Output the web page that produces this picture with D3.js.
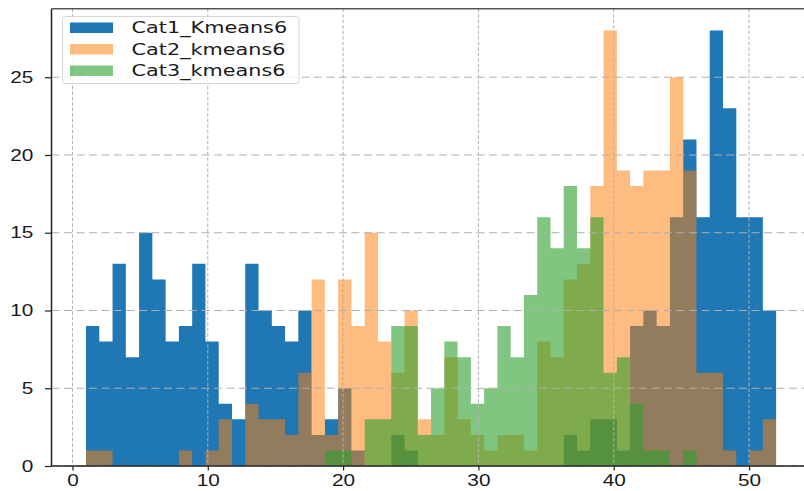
<!DOCTYPE html>
<html>
<head>
<meta charset="utf-8">
<script src="https://cdn.jsdelivr.net/npm/d3@7"></script>
<style>
  html, body { margin: 0; padding: 0; background: #fff; }
  svg { display: block; font-family: "DejaVu Sans", sans-serif; }
</style>
</head>
<body>
<svg></svg>
<script>
// histogram bins: 52 equal bins between 1 and 52
let binStart = 1
let binEnd = 52
let binCount = 52

let seriesNames = ['Cat1_Kmeans6', 'Cat2_kmeans6', 'Cat3_kmeans6']

let cat1 = [9,8,13,7,15,12,8,9,13,8, 4,3,13,10,9,8,10,2,3,5,
            1,0,0,2,1,0,0,0,0,0, 0,0,0,0,0,0,2,1,3,3,
            1,9,10,9,16,21,16,28,23,16, 16,10]
let cat2 = [1,1,0,0,0,0,0,1,0,1, 3,0,4,3,3,2,6,12,2,12,
            9,15,8,6,10,3,2,7,3,2, 1,2,2,1,8,7,12,13,18,28,
            19,18,19,19,25,19,6,6,1,0, 1,3]
let cat3 = [0,0,0,0,0,0,0,0,0,0, 0,0,0,0,0,0,0,0,1,1,
            0,3,3,9,9,2,5,8,7,4, 5,9,7,11,16,14,18,14,16,6,
            7,4,1,1,0,1,0,0,0,0, 0,0]

let xTicks = [0, 10, 20, 30, 40, 50]
let yTicks = [0, 5, 10, 15, 20, 25]

let colors = ['#1f77b4', '#ff7f0e', '#2ca02c']
let alphas = [1, 0.52, 0.6]

let width = 804
let height = 491

let plotLeft = 51.5
let plotRight = 810.6
let plotTop = 8.8
let plotBottom = 466

let svg = d3.select('svg').attr('width', width).attr('height', height)

let binW = (binEnd - binStart) / binCount
let edges = d3.range(binCount + 1).map(i => binStart + i * binW)

let xScale = d3.scaleLinear().domain([-1.55, 54.55]).range([plotLeft, plotRight])
let yScale = d3.scaleLinear().domain([0, 29.4]).range([plotBottom, plotTop])

const drawBars = () => {
    let all = [cat1, cat2, cat3]
    let area = d3.area()
        .curve(d3.curveStepAfter)
        .x(d => xScale(d[0]))
        .y0(yScale(0))
        .y1(d => yScale(d[1]))

    all.forEach((counts, s) => {
        let pts = edges.map((e, i) => [e, i < counts.length ? counts[i] : counts[counts.length - 1]])
        svg.append('path')
            .attr('d', area(pts))
            .attr('fill', colors[s])
            .attr('fill-opacity', alphas[s])
    })
}

const drawGrid = () => {
    let g = svg.append('g').attr('class', 'grid')
    g.selectAll('.vgrid')
        .data(xTicks)
        .enter()
        .append('line')
        .attr('x1', d => xScale(d))
        .attr('x2', d => xScale(d))
        .attr('y1', plotTop)
        .attr('y2', plotBottom)
        .attr('stroke', '#b0b0b0')
        .attr('stroke-width', 1)
        .attr('stroke-dasharray', '3.5,2')
    g.selectAll('.hgrid')
        .data(yTicks)
        .enter()
        .append('line')
        .attr('x1', plotLeft)
        .attr('x2', plotRight)
        .attr('y1', d => yScale(d))
        .attr('y2', d => yScale(d))
        .attr('stroke', '#b0b0b0')
        .attr('stroke-width', 1)
        .attr('stroke-dasharray', '8,4.5')
}

const drawAxes = () => {
    let xAxis = d3.axisBottom(xScale).tickValues(xTicks).tickSize(4.5).tickSizeOuter(0)
    let yAxis = d3.axisLeft(yScale).tickValues(yTicks).tickSize(6.5).tickSizeOuter(0)

    let gx = svg.append('g')
        .attr('transform', `translate(0, ${plotBottom})`)
        .call(xAxis)
    gx.select('.domain').remove()
    gx.selectAll('line').attr('stroke', '#222').attr('stroke-width', 1.2)
    gx.selectAll('text')
        .attr('y', 9)
        .attr('font-size', 16)
        .attr('fill', '#1a1a1a')
        .attr('transform', 'scale(1.3,1)')

    let gy = svg.append('g')
        .attr('transform', `translate(${plotLeft}, 0)`)
        .call(yAxis)
    gy.select('.domain').remove()
    gy.selectAll('line').attr('stroke', '#222').attr('stroke-width', 1.2)
    gy.selectAll('text')
        .attr('x', -14)
        .attr('font-size', 16)
        .attr('fill', '#1a1a1a')
        .attr('transform', 'scale(1.3,1)')

    // spines
    svg.append('line').attr('x1', plotLeft).attr('x2', plotLeft).attr('y1', plotTop).attr('y2', plotBottom)
        .attr('stroke', '#222').attr('stroke-width', 1.5)
    svg.append('line').attr('x1', plotLeft).attr('x2', plotRight).attr('y1', plotBottom).attr('y2', plotBottom)
        .attr('stroke', '#222').attr('stroke-width', 1.5)
    svg.append('line').attr('x1', plotLeft).attr('x2', plotRight).attr('y1', plotTop).attr('y2', plotTop)
        .attr('stroke', '#555').attr('stroke-width', 1.5)
}

const drawLegend = () => {
    let lg = svg.append('g').attr('transform', 'translate(62.5, 16.5)')
    lg.append('rect')
        .attr('width', 236.5)
        .attr('height', 67)
        .attr('rx', 3)
        .attr('fill', '#fff')
        .attr('fill-opacity', 0.8)
        .attr('stroke', '#d6d6d6')
        .attr('stroke-width', 1)

    seriesNames.forEach((name, i) => {
        let row = lg.append('g').attr('transform', `translate(0, ${11 + i * 21.5})`)
        row.append('rect')
            .attr('x', 7.5)
            .attr('y', -5)
            .attr('width', 43)
            .attr('height', 10.5)
            .attr('fill', colors[i])
            .attr('fill-opacity', alphas[i])
        row.append('text')
            .attr('transform', 'translate(69, 5.8) scale(1.3,1)')
            .attr('font-size', 16)
            .attr('fill', '#1a1a1a')
            .text(name)
    })
}

drawBars()
drawGrid()
drawAxes()
drawLegend()
</script>
</body>
</html>
